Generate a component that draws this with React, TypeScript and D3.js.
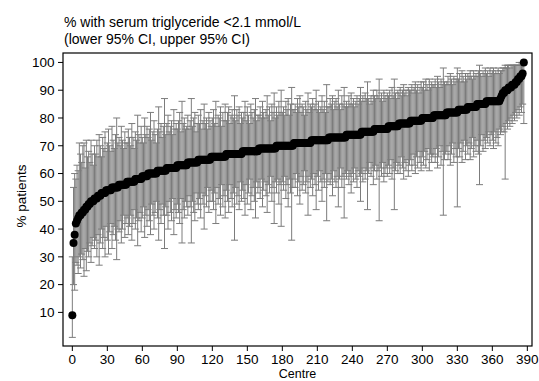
import React from "react";
import * as d3 from "d3";

const titleLines = ["% with serum triglyceride <2.1 mmol/L", "(lower 95% CI, upper 95% CI)"];
const yLabel = "% patients";
const xLabel = "Centre";
const xTicks = [0, 30, 60, 90, 120, 150, 180, 210, 240, 270, 300, 330, 360, 390];
const yTicks = [10, 20, 30, 40, 50, 60, 70, 80, 90, 100];

const values = [
  9, 35, 38, 42, 43, 44, 45, 45, 46, 46,
  47, 47, 48, 48, 49, 49, 50, 50, 50, 51,
  51, 51, 52, 52, 52, 53, 53, 53, 53, 54,
  54, 54, 54, 54, 55, 55, 55, 55, 55, 55,
  56, 56, 56, 56, 56, 56, 56, 57, 57, 57,
  57, 57, 57, 57, 58, 58, 58, 58, 58, 58,
  59, 59, 59, 59, 59, 60, 60, 60, 60, 60,
  60, 60, 60, 61, 61, 61, 61, 61, 61, 61,
  61, 62, 62, 62, 62, 62, 62, 62, 62, 62,
  63, 63, 63, 63, 63, 63, 63, 63, 63, 64,
  64, 64, 64, 64, 64, 64, 64, 64, 65, 65,
  65, 65, 65, 65, 65, 65, 65, 65, 65, 66,
  66, 66, 66, 66, 66, 66, 66, 66, 66, 66,
  66, 66, 67, 67, 67, 67, 67, 67, 67, 67,
  67, 67, 67, 67, 67, 67, 68, 68, 68, 68,
  68, 68, 68, 68, 68, 68, 68, 68, 68, 68,
  69, 69, 69, 69, 69, 69, 69, 69, 69, 69,
  69, 69, 69, 69, 69, 70, 70, 70, 70, 70,
  70, 70, 70, 70, 70, 70, 70, 70, 70, 70,
  71, 71, 71, 71, 71, 71, 71, 71, 71, 71,
  71, 71, 71, 71, 71, 72, 72, 72, 72, 72,
  72, 72, 72, 72, 72, 72, 72, 72, 72, 72,
  73, 73, 73, 73, 73, 73, 73, 73, 73, 73,
  73, 73, 73, 73, 73, 74, 74, 74, 74, 74,
  74, 74, 74, 74, 74, 74, 74, 74, 75, 75,
  75, 75, 75, 75, 75, 75, 75, 75, 75, 76,
  76, 76, 76, 76, 76, 76, 76, 76, 76, 76,
  76, 77, 77, 77, 77, 77, 77, 77, 77, 77,
  78, 78, 78, 78, 78, 78, 78, 78, 78, 78,
  79, 79, 79, 79, 79, 79, 79, 79, 79, 79,
  80, 80, 80, 80, 80, 80, 80, 80, 80, 80,
  81, 81, 81, 81, 81, 81, 81, 81, 81, 81,
  81, 82, 82, 82, 82, 82, 82, 82, 82, 82,
  82, 83, 83, 83, 83, 83, 83, 83, 83, 84,
  84, 84, 84, 84, 84, 84, 84, 85, 85, 85,
  85, 85, 85, 85, 85, 86, 86, 86, 86, 86,
  86, 86, 86, 86, 86, 86, 86, 87, 88, 89,
  89, 90, 90, 90, 91, 91, 91, 92, 92, 92,
  93, 93, 94, 94, 95, 95, 96, 100,
];

const lowerCI = [
  1, 20, 18, 28, 27, 24, 30, 26, 31, 29,
  23, 33, 25, 32, 30, 35, 28, 34, 37, 33,
  36, 30, 38, 27, 35, 40, 33, 37, 30, 41,
  36, 31, 39, 42, 33, 38, 41, 36, 29, 40,
  39, 43, 35, 40, 45, 37, 42, 44, 38, 41,
  45, 36, 42, 47, 40, 44, 34, 43, 46, 39,
  44, 48, 37, 45, 41, 47, 43, 38, 49, 45,
  40, 46, 50, 44, 36, 47, 42, 49, 45, 33,
  48, 45, 40, 50, 46, 43, 51, 38, 47, 44,
  49, 46, 42, 51, 35, 47, 44, 50, 48, 45,
  52, 48, 35, 50, 46, 43, 53, 49, 47, 51,
  44, 53, 49, 40, 52, 48, 55, 46, 50, 54,
  50, 47, 53, 42, 55, 49, 51, 45, 56, 48,
  52, 44, 54, 50, 46, 56, 51, 48, 53, 36,
  55, 49, 52, 47, 57, 50, 54, 51, 45, 56,
  49, 53, 58, 47, 52, 55, 50, 44, 57, 53,
  55, 51, 58, 48, 54, 57, 52, 46, 56, 53,
  59, 50, 55, 42, 57, 53, 58, 49, 56, 41,
  57, 54, 59, 51, 56, 48, 58, 53, 36, 55,
  58, 55, 60, 52, 57, 49, 59, 54, 56, 61,
  53, 57, 45, 59, 55, 58, 52, 60, 56, 47,
  59, 54, 61, 57, 50, 58, 55, 60, 43, 57,
  60, 56, 58, 52, 61, 57, 55, 59, 48, 58,
  62, 55, 59, 44, 60, 58, 61, 56, 59, 53,
  60, 57, 62, 58, 55, 61, 59, 50, 60, 57,
  62, 58, 61, 47, 60, 64, 59, 62, 56, 61,
  63, 58, 61, 43, 62, 59, 64, 57, 60, 62,
  59, 63, 60, 65, 58, 62, 47, 61, 64, 60,
  63, 60, 66, 62, 58, 64, 61, 65, 59, 63,
  65, 61, 67, 63, 60, 66, 62, 68, 64, 61,
  66, 63, 68, 62, 65, 69, 61, 67, 64, 66,
  67, 64, 69, 62, 66, 70, 63, 68, 45, 65,
  67, 68, 65, 70, 63, 67, 71, 64, 69, 66,
  48, 69, 66, 71, 64, 68, 72, 65, 70, 67,
  71, 65, 69, 73, 66, 70, 68, 72, 67, 56,
  70, 74, 68, 72, 69, 73, 71, 75, 70, 74,
  72, 69, 75, 71, 73, 70, 76, 74, 75, 77,
  75, 58, 78, 76, 79, 77, 80, 78, 81, 79,
  82, 80, 83, 81, 84, 82, 85, 78,
];

const upperCI = [
  30, 55, 60, 58, 63, 61, 71, 67, 64, 70,
  71, 62, 72, 66, 68, 64, 72, 67, 63, 70,
  67, 72, 66, 74, 70, 66, 73, 69, 75, 68,
  71, 76, 70, 68, 77, 72, 69, 74, 80, 71,
  73, 70, 77, 72, 69, 75, 71, 71, 76, 73,
  70, 78, 73, 69, 75, 72, 81, 74, 71, 77,
  73, 71, 80, 74, 77, 73, 76, 82, 72, 75,
  79, 74, 71, 76, 84, 75, 78, 73, 77, 87,
  74, 78, 81, 75, 77, 79, 74, 83, 76, 78,
  76, 79, 82, 75, 86, 78, 80, 76, 77, 81,
  76, 79, 87, 77, 80, 82, 75, 78, 81, 78,
  83, 76, 79, 85, 78, 80, 76, 82, 79, 77,
  80, 83, 78, 86, 77, 81, 80, 84, 77, 82,
  79, 85, 79, 82, 84, 78, 81, 83, 80, 88,
  79, 83, 81, 84, 78, 82, 80, 82, 86, 79,
  84, 81, 78, 85, 82, 80, 83, 87, 79, 81,
  81, 84, 80, 86, 82, 80, 83, 88, 81, 84,
  79, 85, 82, 89, 80, 84, 81, 86, 82, 90,
  82, 84, 81, 86, 83, 87, 81, 85, 91, 83,
  83, 85, 82, 87, 84, 88, 82, 85, 84, 81,
  86, 83, 89, 82, 85, 84, 87, 83, 85, 90,
  83, 86, 82, 84, 88, 83, 86, 82, 92, 84,
  84, 87, 85, 88, 83, 86, 87, 84, 90, 85,
  83, 88, 85, 91, 84, 86, 84, 88, 85, 89,
  85, 87, 84, 86, 88, 85, 87, 91, 86, 88,
  86, 89, 87, 93, 87, 85, 88, 86, 90, 88,
  87, 90, 88, 94, 87, 89, 86, 90, 88, 87,
  89, 88, 90, 87, 91, 88, 94, 89, 87, 90,
  89, 91, 88, 90, 92, 89, 90, 88, 91, 90,
  90, 92, 89, 91, 93, 90, 92, 89, 91, 93,
  91, 93, 90, 94, 92, 90, 94, 91, 93, 92,
  92, 94, 91, 95, 93, 91, 94, 92, 98, 93,
  92, 93, 95, 92, 96, 94, 92, 95, 93, 94,
  98, 94, 96, 93, 97, 95, 93, 96, 94, 96,
  95, 97, 95, 94, 97, 95, 96, 95, 97, 99,
  96, 95, 97, 96, 98, 96, 97, 95, 98, 96,
  97, 98, 96, 97, 96, 98, 96, 97, 97, 98,
  98, 99, 98, 99, 99, 98, 99, 99, 99, 99,
  99, 99, 99, 100, 99, 100, 100, 100,
];

const W = 539;
const H = 381;
const M = { left: 63, right: 532, top: 53, bottom: 346 };
const FONT = "'Liberation Sans', Arial, sans-serif";

export default function App() {
  const x = d3.scaleLinear().domain([-8, 394]).range([M.left, M.right]);
  const y = d3.scaleLinear().domain([-2.1, 103.4]).range([M.bottom, M.top]);
  const cap = 3.5;
  const grey = "#7c7c7c";

  return (
    <svg
      width={W}
      height={H}
      style={{ position: "absolute", left: 0, top: 0, background: "#fff" }}
      fontFamily={FONT}
    >
      <text x={64} y={27} fontSize={14} fill="#000">{titleLines[0]}</text>
      <text x={64} y={44} fontSize={14} fill="#000">{titleLines[1]}</text>

      <g>
        {values.map((v, i) => {
          const cx = x(i);
          const yl = y(lowerCI[i]);
          const yu = y(upperCI[i]);
          return (
            <g key={"e" + i} stroke={grey} strokeWidth={1}>
              <line x1={cx} x2={cx} y1={yl} y2={yu} />
              <line x1={cx - cap} x2={cx + cap} y1={yl} y2={yl} />
              <line x1={cx - cap} x2={cx + cap} y1={yu} y2={yu} />
            </g>
          );
        })}
      </g>
      <g>
        {values.map((v, i) => (
          <circle key={"p" + i} cx={x(i)} cy={y(v)} r={4} fill="#000" />
        ))}
      </g>

      <rect
        x={M.left}
        y={M.top}
        width={M.right - M.left}
        height={M.bottom - M.top}
        fill="none"
        stroke="#000"
        strokeWidth={1.2}
      />

      {yTicks.map((t) => (
        <g key={"yt" + t}>
          <line x1={M.left - 5} x2={M.left} y1={y(t)} y2={y(t)} stroke="#000" />
          <text x={M.left - 8.5} y={y(t)} dy="0.36em" textAnchor="end" fontSize={13.5} fill="#000">
            {t}
          </text>
        </g>
      ))}
      {xTicks.map((t) => (
        <g key={"xt" + t}>
          <line x1={x(t)} x2={x(t)} y1={M.bottom} y2={M.bottom + 5} stroke="#000" />
          <text x={x(t)} y={364} textAnchor="middle" fontSize={13.5} fill="#000">
            {t}
          </text>
        </g>
      ))}
      <text x={(M.left + M.right) / 2} y={378.3} textAnchor="middle" fontSize={12.5} fill="#000">
        {xLabel}
      </text>
      <text
        transform={`translate(26, ${196}) rotate(-90)`}
        textAnchor="middle"
        fontSize={13.5}
        fill="#000"
      >
        {yLabel}
      </text>
    </svg>
  );
}
